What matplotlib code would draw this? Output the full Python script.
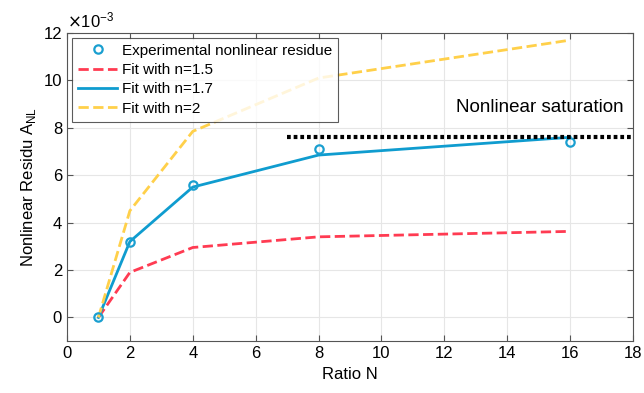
import matplotlib
matplotlib.use("Agg")
import matplotlib.pyplot as plt
import numpy as np

plt.rcParams['font.family'] = ['Liberation Sans', 'DejaVu Sans']
plt.rcParams['font.size'] = 12

# data (values in units of 1e-3)
ratio = [1, 2, 4, 8, 16]
exp_res = [0.0, 3.2, 5.6, 7.1, 7.4]
fit_15 = [0.0, 1.9, 2.95, 3.4, 3.63]
fit_17 = [0.0, 3.2, 5.5, 6.85, 7.6]
fit_20 = [0.0, 4.5, 7.85, 10.1, 11.7]
sat_level = 7.6
sat_x = [7, 18]

fig = plt.figure(figsize=(6.44, 3.93), dpi=100)
ax = fig.add_axes([0.104, 0.132, 0.879, 0.784])

ax.plot(ratio, exp_res, 'o', mfc='none', mec='#1a9fd0',
        mew=1.6, ms=6, label='Experimental nonlinear residue', zorder=5)
ax.plot(ratio, fit_15, '--', color='#ff3b52', lw=2, label='Fit with n=1.5')
ax.plot(ratio, fit_17, '-', color='#0f9ccf', lw=2, label='Fit with n=1.7')
ax.plot(ratio, fit_20, '--', color='#ffd04a', lw=2, label='Fit with n=2')
ax.plot(sat_x, [sat_level] * 2, color='black', lw=3.0, dashes=(0.9, 0.7),
        dash_capstyle='butt', clip_on=False, zorder=6)
ax.text(17.7, 8.85, 'Nonlinear saturation', ha='right', va='center',
        fontsize=13.5, color='black')

ax.set_xlim(0, 18)
ax.set_ylim(-1, 12)
ax.set_xticks(np.arange(0, 19, 2))
ax.set_yticks(np.arange(0, 13, 2))
ax.text(0.0, 1.01, r'$\times\mathregular{10^{-3}}$', transform=ax.transAxes,
        ha='left', va='bottom', fontsize=12)
ax.grid(True, color='#e6e6e6', lw=0.8)
ax.set_axisbelow(True)
ax.tick_params(direction='in', top=True, right=True, length=4,
               color='#555555', labelsize=12)
for s in ax.spines.values():
    s.set_color('#555555')
    s.set_linewidth(0.8)

ax.set_xlabel('Ratio N', fontsize=12)
ax.set_ylabel('Nonlinear Residu A$_{\\mathregular{NL}}$', fontsize=12)

leg = ax.legend(loc='upper left', fontsize=11, frameon=True, fancybox=False,
                edgecolor='#333333', handlelength=2.6, handletextpad=0.3,
                borderpad=0.4, labelspacing=0.35, borderaxespad=0.3)
leg.get_frame().set_linewidth(0.8)

fig.savefig('out.png', dpi=100)
